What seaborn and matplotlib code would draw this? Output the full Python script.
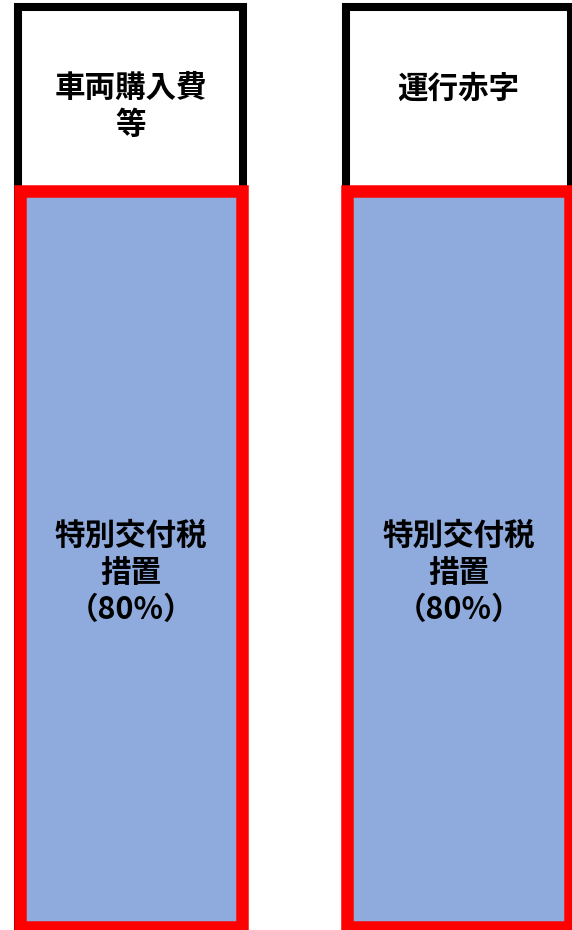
import matplotlib
matplotlib.use("Agg")
import matplotlib.pyplot as plt
import seaborn as sns
import pandas as pd

# --- data ---
categories = ["車両購入費等", "運行赤字"]
top_labels = ["車両購入費\n等", "運行赤字"]
totals = [100, 100]
subsidy_share = [80, 80]
subsidy_labels = ["特別交付税\n措置\n（80%）", "特別交付税\n措置\n（80%）"]

sns.set_theme(style="white")
plt.rcParams["font.family"] = ["Noto Sans CJK JP", "DejaVu Sans"]

df = pd.DataFrame({"cat": categories, "total": totals, "share": subsidy_share})

fig = plt.figure(figsize=(5.72, 9.30), dpi=100)
ax = fig.add_axes([0, 0, 1, 1])

# full bars (white, black edge)
sns.barplot(data=df, x="cat", y="total", ax=ax, color="white",
            edgecolor="black", linewidth=5.8, width=0.685, saturation=1)
# subsidy part (blue, red edge)
sns.barplot(data=df, x="cat", y="share", ax=ax, color="#8FAADC",
            edgecolor="#FF0000", linewidth=9.0, width=0.677, saturation=1)

ax.set_xlim(-0.398, 1.346)
ax.set_ylim(-0.326, 100.76)
ax.axis("off")

top_y = [89.2, 91.1]
for i, (lab, ty) in enumerate(zip(top_labels, top_y)):
    ax.text(i, ty, lab, ha="center", va="center", fontsize=22,
            fontweight="bold", linespacing=1.2, color="black")
for i, (lab, v) in enumerate(zip(subsidy_labels, subsidy_share)):
    ax.text(i, 38.5, lab, ha="center", va="center", fontsize=22,
            fontweight="bold", linespacing=1.2, color="black")

fig.savefig("out.png", dpi=100)
